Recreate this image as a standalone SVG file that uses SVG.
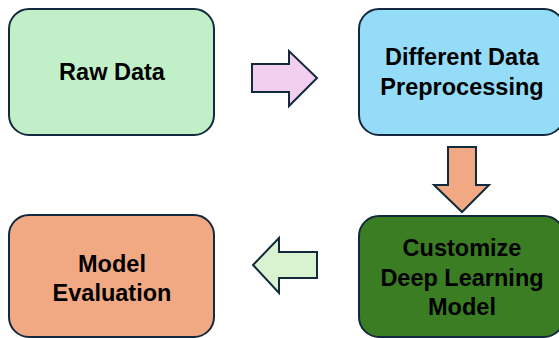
<svg xmlns="http://www.w3.org/2000/svg" width="559" height="338" viewBox="0 0 559 338">
<style>
.box{stroke:#13293d;stroke-width:2}
.arr{stroke:#13293d;stroke-width:2;stroke-linejoin:miter}
.t{font-family:"Liberation Sans",Arial,sans-serif;font-weight:bold;font-size:23.5px;fill:#000;text-anchor:middle}
</style>
<rect width="559" height="338" fill="#fff"/>
<g id="raw-data">
<rect class="box" x="9" y="9" width="205" height="126" rx="20" fill="#c1f0c8"/>
<text class="t" x="112" y="80">Raw Data</text>
</g>
<g id="preprocessing">
<rect class="box" x="359" y="9" width="205" height="126" rx="20" fill="#94dcf8"/>
<text class="t" x="462" y="65">Different Data</text>
<text class="t" x="462" y="95">Preprocessing</text>
</g>
<g id="customize">
<rect class="box" x="359" y="216" width="205" height="121" rx="20" fill="#3b7d23"/>
<text class="t" x="462" y="256">Customize</text>
<text class="t" x="462" y="286">Deep Learning</text>
<text class="t" x="462" y="315">Model</text>
</g>
<g id="evaluation">
<rect class="box" x="9" y="215" width="205" height="122" rx="20" fill="#f1a983"/>
<text class="t" x="112" y="272">Model</text>
<text class="t" x="112" y="301">Evaluation</text>
</g>
<g id="connectors">
<polygon class="arr" fill="#f2cfee" points="252,64 289,64 289,51 317,78 289,106 289,92 252,92"/>
<polygon class="arr" fill="#f1a983" points="448,147 476,147 476,185 489,185 462,212 434,185 448,185"/>
<polygon class="arr" fill="#d9f2d0" points="317,252 279,252 279,238 253,265 279,293 279,278 317,278"/>
</g>
</svg>
